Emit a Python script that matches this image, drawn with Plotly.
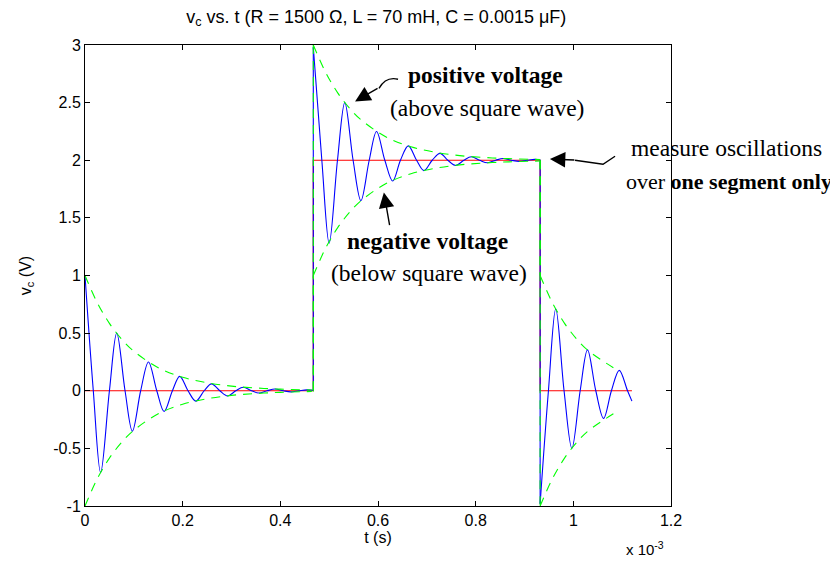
import plotly.graph_objects as go

# time in units of 1e-3 s
# segment 1: 0 .. 0.4675 (around 0 V)
t_seg1 = [0, 0.017, 0.032, 0.050, 0.065, 0.082, 0.097, 0.114, 0.130, 0.147,
          0.162, 0.179, 0.194, 0.211, 0.227, 0.244, 0.259, 0.276, 0.292, 0.309,
          0.324, 0.341, 0.356, 0.373, 0.389, 0.406, 0.421, 0.438, 0.454, 0.4675]
v_seg1 = [1.0, 0, -0.71, 0, 0.50, 0, -0.35, 0, 0.25, 0,
          -0.18, 0, 0.125, 0, -0.09, 0, 0.06, 0, -0.045, 0,
          0.03, 0, -0.02, 0, 0.015, 0, -0.01, 0, 0.008, 0.004]

# segment 2: 0.4675 .. 0.932 (around 2 V)
t_seg2 = [0.4675, 0.485, 0.500, 0.517, 0.532, 0.549, 0.565, 0.582, 0.597, 0.614,
          0.630, 0.646, 0.662, 0.679, 0.694, 0.711, 0.727, 0.743, 0.759, 0.776,
          0.791, 0.808, 0.824, 0.841, 0.856, 0.873, 0.889, 0.905, 0.921, 0.932]
v_seg2 = [2.98, 2.0, 1.28, 2.0, 2.50, 2.0, 1.65, 2.0, 2.25, 2.0,
          1.82, 2.0, 2.125, 2.0, 1.91, 2.0, 2.06, 2.0, 1.955, 2.0,
          2.03, 2.0, 1.978, 2.0, 2.015, 2.0, 1.99, 2.0, 2.008, 2.004]

# segment 3: 0.932 .. 1.12 (around 0 V)
t_seg3 = [0.932, 0.949, 0.964, 0.981, 0.997, 1.014, 1.029, 1.046, 1.062, 1.078,
          1.094, 1.111, 1.12]
v_seg3 = [-0.98, 0, 0.71, 0, -0.50, 0, 0.355, 0, -0.24, 0,
          0.177, 0, -0.09]

# square wave
t_square = [0, 0.4675, 0.4675, 0.932, 0.932, 1.12]
v_square = [0, 0, 2, 2, 0, 0]

# decay envelopes (offset from segment start)
env_offset = [0, 0.025, 0.05, 0.075, 0.1, 0.15, 0.2, 0.25, 0.3, 0.35, 0.4, 0.4645]
env_value = [1.0, 0.765, 0.585, 0.448, 0.343, 0.20, 0.117, 0.069, 0.040, 0.024, 0.014, 0.007]
seg_start = [0, 0.4675, 0.932]
seg_end = [0.4675, 0.932, 1.12]
seg_base = [0, 2, 0]

blue = '#0000ff'
green = '#00ff00'
red = '#ff0000'

fig = go.Figure()

fig.add_trace(go.Scatter(x=t_square, y=v_square, mode='lines',
                         line=dict(color=red, width=1.2)))

for tt, vv in [(t_seg1, v_seg1), (t_seg2, v_seg2), (t_seg3, v_seg3)]:
    fig.add_trace(go.Scatter(x=tt, y=vv, mode='lines',
                             line=dict(color=blue, width=1.1, shape='spline', smoothing=1)))
# jumps between segments
fig.add_trace(go.Scatter(x=[t_seg1[-1], t_seg2[0], None, t_seg2[-1], t_seg3[0]],
                         y=[v_seg1[-1], v_seg2[0], None, v_seg2[-1], v_seg3[0]],
                         mode='lines', line=dict(color=blue, width=1.1)))

# envelopes
for s, e, b in zip(seg_start, seg_end, seg_base):
    xs = [s + o for o in env_offset if s + o <= e + 1e-9]
    ys = env_value[:len(xs)]
    fig.add_trace(go.Scatter(x=xs, y=[b + y for y in ys], mode='lines',
                             line=dict(color=green, width=1.1, dash='9px,7px', shape='spline')))
    fig.add_trace(go.Scatter(x=xs, y=[b - y for y in ys], mode='lines',
                             line=dict(color=green, width=1.1, dash='9px,7px', shape='spline')))
fig.add_trace(go.Scatter(x=[0.4675, 0.4675, None, 0.4675, 0.4675, None, 0.932, 0.932, None, 0.932, 0.932],
                         y=[0.007, 3.0, None, -0.007, 1.0, None, 2.0, 1.0, None, 2.0, -1.0],
                         mode='lines', line=dict(color=green, width=1.1, dash='9px,7px')))

serif = dict(family='Liberation Serif', size=23.5, color='black')
ann = [
    dict(x=0.821, y=2.74, text='<b>positive voltage</b>', showarrow=False, font=serif),
    dict(x=0.823, y=2.45, text='(above square wave)', showarrow=False, font=serif),
    dict(x=0.702, y=1.30, text='<b>negative voltage</b>', showarrow=False, font=serif),
    dict(x=0.704, y=1.02, text='(below square wave)', showarrow=False, font=serif),
    dict(x=1.094, y=0.777, xref='paper', yref='paper', text='measure oscillations',
         xanchor='center', yanchor='middle', showarrow=False, font=serif),
    dict(x=1.099, y=0.703, xref='paper', yref='paper', text='over <b>one segment only</b>',
         xanchor='center', yanchor='middle', showarrow=False,
         font=dict(family='Liberation Serif', size=22, color='black')),
    # arrow heads (bodies drawn as shapes below)
    dict(x=0.553, y=2.51, text='', showarrow=True, arrowhead=2, arrowsize=2.2, arrowwidth=1.4,
         ax=24, ay=-14, arrowcolor='black'),
    dict(x=0.612, y=1.72, text='', showarrow=True, arrowhead=2, arrowsize=2.2, arrowwidth=1.4,
         ax=6, ay=34, arrowcolor='black'),
    dict(x=0.952, y=2.01, text='', showarrow=True, arrowhead=2, arrowsize=2.2, arrowwidth=1.4,
         ax=26, ay=1, arrowcolor='black'),
    dict(x=0.955, y=-0.093, xref='paper', yref='paper', text='x 10<sup>-3</sup>',
         xanchor='center', yanchor='middle', showarrow=False,
         font=dict(family='Liberation Sans', size=15, color='black')),
]

shapes = [
    dict(type='path', xref='x', yref='y', path='M 0.602,2.624 Q 0.616,2.729 0.641,2.703',
         line=dict(color='black', width=1.4)),
    dict(type='path', xref='x', yref='y', path='M 1.0035,2.0 L 1.0608,1.965 L 1.0854,2.035',
         line=dict(color='black', width=1.4)),
]

axis_style = dict(showgrid=False, zeroline=False, showline=True, linecolor='black', linewidth=1,
                  mirror='ticks', ticks='inside', ticklen=5, tickcolor='black',
                  tickfont=dict(family='Liberation Sans', size=16, color='black'))

fig.update_layout(
    width=830, height=553,
    margin=dict(l=77, r=167, t=37, b=55),
    paper_bgcolor='white', plot_bgcolor='white',
    showlegend=False,
    title=dict(text='v<sub>c</sub> vs. t (R = 1500 Ω, L = 70 mH, C = 0.0015 μF)',
               xref='paper', x=0.497, xanchor='center', y=0.985, yanchor='middle',
               font=dict(family='Liberation Sans', size=18, color='black')),
    xaxis=dict(range=[0, 1.2], tickvals=[0, 0.2, 0.4, 0.6, 0.8, 1, 1.2],
               ticktext=['0', '0.2', '0.4', '0.6', '0.8', '1', '1.2'],
               title=dict(text='t (s)', standoff=2,
                          font=dict(family='Liberation Sans', size=16, color='black')),
               **axis_style),
    yaxis=dict(range=[-1, 3], tickvals=[-1, -0.5, 0, 0.5, 1, 1.5, 2, 2.5, 3],
               ticktext=['-1', '-0.5', '0', '0.5', '1', '1.5', '2', '2.5', '3'],
               title=dict(text='v<sub>c</sub> (V)', standoff=17,
                          font=dict(family='Liberation Sans', size=16, color='black')),
               **axis_style),
    annotations=ann,
    shapes=shapes,
)

fig.write_html("out.html")
